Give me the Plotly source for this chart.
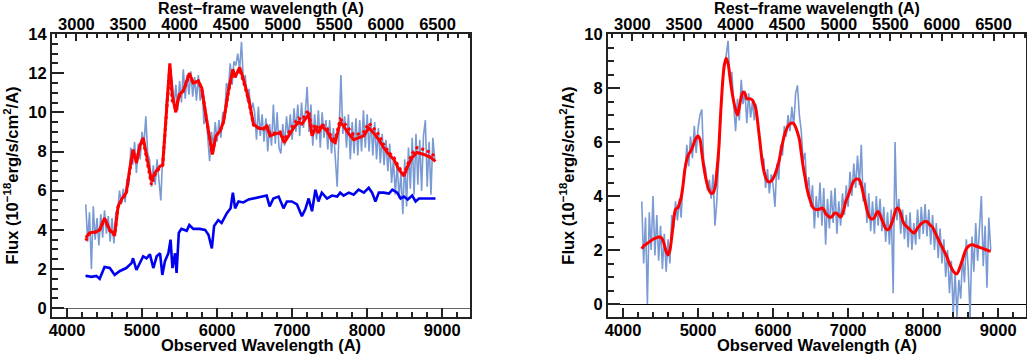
import numpy as np
import plotly.graph_objects as go

REDSHIFT = 0.375

# common sampling grid of the observed spectra (Angstrom)
wave = np.arange(4250, 8901, 25)

# left panel: observed spectrum (light blue)
left_obs = [
    5.3, 3.4, 4.9, 2.0, 5.2, 3.5, 4.6, 3.2, 4.8, 3.6,
    5.0, 3.8, 4.7, 3.4, 4.6, 3.3, 4.9, 5.0, 6.0, 5.3,
    6.1, 5.4, 6.6, 6.3, 8.2, 7.3, 8.5, 6.9, 8.4, 7.6,
    9.0, 8.3, 9.8, 7.9, 7.6, 6.2, 7.3, 6.3, 7.6, 6.6,
    5.5, 7.8, 8.4, 10.6, 11.5, 12.3, 11.6, 10.2, 11.4, 10.1,
    11.6, 10.5, 12.2, 10.7, 11.9, 10.9, 12.1, 10.8, 11.8, 10.6,
    11.9, 10.6, 11.2, 9.4, 10.0, 8.6, 7.5, 9.0, 8.3, 9.5,
    8.5, 9.6, 8.7, 10.0, 9.8, 11.5, 11.2, 12.5, 11.4, 12.6,
    12.4, 13.0, 12.2, 13.6, 11.6, 11.9, 10.6, 11.2, 10.0, 10.5,
    10.0, 8.6, 10.3, 8.8, 9.9, 8.5, 9.7, 8.0, 9.4, 8.3,
    10.4, 8.4, 10.0, 8.2, 7.9, 9.4, 8.3, 9.8, 8.7, 9.9,
    8.6, 10.2, 9.0, 10.4, 8.8, 10.5, 9.2, 10.0, 11.3, 9.0,
    10.4, 8.3, 9.9, 8.6, 10.1, 8.2, 10.0, 8.7, 9.6, 8.1,
    9.6, 7.9, 9.2, 7.7, 6.2, 9.0, 11.9, 8.9, 9.8, 8.2,
    9.9, 7.6, 9.5, 7.9, 9.7, 7.8, 9.6, 8.0, 10.1, 8.2,
    9.9, 8.0, 9.7, 7.8, 9.5, 7.6, 9.2, 7.4, 8.9, 7.3,
    8.6, 7.0, 8.4, 6.4, 7.6, 5.8, 7.4, 5.6, 6.9, 4.8,
    7.6, 5.2, 8.2, 6.1, 8.7, 5.8, 8.9, 6.3, 8.6, 6.0,
    8.8, 9.6, 6.2, 8.5, 5.8, 8.7, 7.6,
]

# left panel: model fits (red solid / red dotted)
fit_wave = [
    4250, 4300, 4390, 4435, 4500, 4570, 4635, 4680, 4725, 4790,
    4835, 4880, 4925, 4970, 5015, 5060, 5125, 5170, 5240, 5275,
    5305, 5340, 5370, 5405, 5450, 5495, 5550, 5630, 5683, 5750,
    5795, 5860, 5937, 5985, 6040, 6085, 6150, 6210, 6240, 6300,
    6350, 6420, 6485, 6550, 6620, 6660, 6705, 6775, 6840, 6895,
    6950, 7020, 7085, 7130, 7175, 7220, 7265, 7310, 7350, 7395,
    7465, 7530, 7575, 7640, 7685, 7755, 7820, 7885, 7955, 8020,
    8085, 8155, 8220, 8290, 8355, 8420, 8490, 8540, 8600, 8665,
    8755, 8845, 8910,
]
fit_solid = [
    3.6, 3.85, 3.9, 4.0, 4.6, 4.0, 3.75, 5.2, 5.55, 5.9,
    7.1, 8.1, 7.4, 8.3, 8.7, 7.8, 6.5, 6.9, 7.25, 7.3,
    9.0, 11.0, 12.5, 10.85, 10.0, 10.9, 11.1, 12.0, 11.5, 11.6,
    11.25, 9.65, 7.85, 8.8, 9.05, 9.5, 11.1, 12.2, 11.8, 12.3,
    11.7, 10.7, 9.4, 9.2, 9.15, 9.3, 8.8, 8.9, 8.95, 8.45,
    8.8, 9.2, 9.5, 9.4, 9.65, 9.9, 8.8, 9.2, 8.95, 9.3,
    9.05, 8.55, 8.45, 9.5, 9.3, 8.9, 8.6, 8.7, 8.8, 9.2,
    8.95, 8.6, 8.2, 7.85, 7.6, 7.1, 6.75, 7.25, 7.7, 7.95,
    7.85, 7.7, 7.5,
]
fit_dotted = [
    3.45, 3.8, 3.9, 4.0, 4.55, 3.95, 3.7, 5.15, 5.5, 5.85,
    7.0, 7.9, 7.5, 8.2, 8.6, 7.7, 6.3, 6.8, 7.2, 7.3,
    9.0, 10.9, 12.3, 10.5, 10.3, 10.8, 11.1, 11.9, 11.5, 11.6,
    11.2, 9.6, 7.9, 8.8, 9.05, 9.5, 11.0, 12.1, 11.8, 12.2,
    11.6, 10.6, 9.35, 9.2, 9.15, 9.35, 8.9, 8.95, 9.0, 8.6,
    8.95, 9.4, 9.7, 9.6, 9.9, 10.1, 9.0, 9.4, 9.1, 9.4,
    9.2, 8.7, 8.6, 9.65, 9.5, 9.15, 8.85, 8.9, 9.0, 9.45,
    9.2, 8.85, 8.35, 7.95, 7.7, 7.2, 6.85, 7.35, 7.9, 8.2,
    8.1, 7.95, 7.7,
]

# left panel: host/template component (dark blue)
host_wave = [
    4250, 4265, 4325, 4390, 4435, 4500, 4570, 4635, 4705, 4790,
    4860, 4880, 4925, 4970, 5015, 5060, 5105, 5150, 5195, 5240,
    5270, 5305, 5350, 5380, 5405, 5440, 5460, 5490, 5525, 5595,
    5630, 5683, 5770, 5840, 5885, 5930, 5960, 6015, 6060, 6130,
    6180, 6210, 6240, 6285, 6350, 6420, 6485, 6575, 6660, 6700,
    6750, 6820, 6885, 6930, 6995, 7065, 7130, 7175, 7220, 7265,
    7310, 7350, 7395, 7465, 7530, 7600, 7640, 7685, 7755, 7820,
    7885, 7955, 8020, 8065, 8110, 8155, 8220, 8290, 8335, 8400,
    8445, 8490, 8540, 8600, 8645, 8690, 8755, 8845, 8910,
]
host_flux = [
    1.6, 1.65, 1.6, 1.65, 1.5, 2.1, 2.05, 1.7, 1.9, 2.05,
    2.3, 2.55, 1.95, 2.3, 2.65, 2.55, 2.75, 2.05, 2.65, 2.8,
    1.7, 2.4, 2.8, 3.5, 2.05, 2.8, 1.8, 3.85, 4.05, 3.95,
    4.25, 4.05, 4.05, 4.0, 3.75, 3.05, 4.2, 4.5, 4.35, 4.85,
    5.1, 5.9, 5.1, 5.45, 5.4, 5.55, 5.6, 5.7, 5.75, 5.2,
    5.6, 5.7, 5.1, 5.45, 5.45, 5.3, 4.7, 5.05, 5.6, 4.95,
    6.05, 5.45, 5.9, 5.6, 5.75, 5.7, 5.9, 5.75, 5.9, 5.8,
    6.05, 5.9, 6.15, 5.9, 5.45, 5.9, 5.9, 5.85, 6.05, 5.9,
    5.6, 5.7, 5.55, 5.75, 5.45, 5.6, 5.6, 5.6, 5.6,
]

# right panel: host-subtracted spectrum (light blue) and smoothed fit (red)
right_obs = [
    3.8, 1.5, 3.2, 0.0, 3.4, 2.0, 4.0, 1.8, 3.3, 1.6,
    2.9, 1.3, 2.6, 1.2, 2.4, 1.5, 3.3, 2.8, 3.8, 3.1,
    3.9, 3.2, 4.6, 4.8, 5.9, 5.1, 6.2, 5.4, 6.6, 5.6,
    6.5, 7.0, 7.2, 5.3, 5.0, 4.2, 4.6, 3.9, 4.8, 2.9,
    3.8, 5.2, 6.8, 8.3, 8.7, 9.2, 9.75, 8.2, 8.6, 7.4,
    6.4, 7.6, 6.8, 8.3, 7.4, 7.9, 6.7, 7.8, 6.9, 7.5,
    6.8, 7.4, 6.5, 6.0, 5.2, 5.4, 4.3, 5.0, 4.1, 4.8,
    4.4, 3.6, 5.2, 4.6, 5.9, 5.5, 6.6, 6.2, 7.0, 6.4,
    7.3, 6.6, 7.8, 8.1, 7.0, 6.4, 5.3, 5.6, 4.2, 4.7,
    3.6, 4.4, 2.8, 4.0, 3.2, 4.5, 2.9, 4.3, 2.2, 3.9,
    2.8, 4.2, 3.0, 4.3, 2.6, 3.8, 2.9, 4.1, 3.3, 4.4,
    3.6, 4.9, 4.0, 5.2, 4.3, 5.5, 4.4, 5.9, 3.8, 4.5,
    3.0, 4.1, 2.7, 3.8, 2.6, 4.0, 2.9, 3.9, 2.7, 3.6,
    2.3, 3.4, 2.2, 3.5, 0.4, 6.0, 3.1, 3.9, 2.6, 3.5,
    2.4, 3.3, 2.1, 3.4, 2.0, 3.0, 2.2, 3.5, 2.4, 3.6,
    2.6, 3.7, 2.5, 3.5, 2.2, 3.3, 2.0, 3.0, 1.7, 2.8,
    1.5, 2.4, 1.0, 2.0, 0.4, 1.6, -0.4, 1.2, -0.5, 0.9,
    0.2, 1.8, 0.8, 2.4, 1.3, -0.5, 2.5, 1.2, 3.0, 1.6,
    2.6, 4.0, 1.4, 2.9, 0.6, 3.2, 2.0,
]
right_fit = [
    2.05, 2.15, 2.2, 2.25, 2.3, 2.35, 2.4, 2.43, 2.46, 2.48,
    2.48, 2.4, 2.2, 1.95, 1.82, 2.0, 2.5, 3.1, 3.5, 3.55,
    3.7, 3.95, 4.4, 5.0, 5.35, 5.55, 5.65, 5.8, 6.0, 6.15,
    6.22, 6.1, 5.6, 5.1, 4.7, 4.4, 4.2, 4.1, 4.12, 4.3,
    4.9, 5.7, 7.0, 8.1, 8.85, 9.1, 8.9, 8.4, 7.9, 7.5,
    7.2, 7.0, 7.3, 7.65, 7.85, 7.8, 7.6, 7.6, 7.6, 7.55,
    7.4, 7.15, 6.6, 6.0, 5.4, 4.95, 4.7, 4.55, 4.52, 4.55,
    4.65, 4.8, 5.0, 5.25, 5.6, 5.95, 6.25, 6.45, 6.6, 6.67,
    6.7, 6.68, 6.55, 6.35, 6.1, 5.6, 5.1, 4.7, 4.3, 4.0,
    3.8, 3.6, 3.52, 3.5, 3.5, 3.52, 3.56, 3.5, 3.35, 3.28,
    3.22, 3.22, 3.3, 3.37, 3.35, 3.28, 3.22, 3.35, 3.6, 3.85,
    4.0, 4.2, 4.4, 4.55, 4.62, 4.63, 4.6, 4.4, 4.1, 3.8,
    3.5, 3.27, 3.17, 3.15, 3.2, 3.35, 3.43, 3.3, 3.12, 2.95,
    2.8, 2.75, 2.8, 2.95, 3.15, 3.4, 3.55, 3.52, 3.35, 3.1,
    2.95, 2.88, 2.82, 2.75, 2.68, 2.63, 2.7, 2.82, 2.9, 2.98,
    3.03, 3.06, 3.05, 2.98, 2.9, 2.85, 2.7, 2.55, 2.4, 2.25,
    2.12, 1.98, 1.85, 1.68, 1.5, 1.35, 1.22, 1.14, 1.12, 1.25,
    1.45, 1.65, 1.88, 2.05, 2.13, 2.18, 2.2, 2.18, 2.15, 2.13,
    2.1, 2.08, 2.05, 2.02, 2.0, 1.97, 1.95,
]

OBS_RANGE = [3800, 9370]
LEFT_YRANGE = [-0.45, 14.0]
RIGHT_YRANGE = [-0.48, 10.0]

FONT = dict(family="Liberation Sans, Arial, sans-serif", size=16.5, color="black", weight="bold")
TOP_TITLE_FONT = dict(FONT, size=16)
AXCOL = "#222222"
LIGHT = "rgb(122,154,212)"

fig = go.Figure()

fig.add_trace(go.Scatter(x=wave, y=left_obs, mode="lines", line=dict(color=LIGHT, width=1.6),
                         xaxis="x", yaxis="y", showlegend=False))
fig.add_trace(go.Scatter(x=host_wave, y=host_flux, mode="lines", line=dict(color="#0000f0", width=2.6),
                         xaxis="x", yaxis="y", showlegend=False))
fig.add_trace(go.Scatter(x=fit_wave, y=fit_dotted, mode="lines", line=dict(color="#ff0000", width=3, dash="dot"),
                         xaxis="x", yaxis="y", showlegend=False))
fig.add_trace(go.Scatter(x=fit_wave, y=fit_solid, mode="lines", line=dict(color="#ff0000", width=3),
                         xaxis="x", yaxis="y", showlegend=False))

fig.add_trace(go.Scatter(x=wave, y=right_obs, mode="lines", line=dict(color=LIGHT, width=1.6),
                         xaxis="x2", yaxis="y2", showlegend=False))
fig.add_trace(go.Scatter(x=wave, y=right_fit, mode="lines", line=dict(color="#ff0000", width=3, shape="spline"),
                         xaxis="x2", yaxis="y2", showlegend=False))

# dummy traces so the rest-frame axes are drawn
fig.add_trace(go.Scatter(x=[None], y=[None], xaxis="x3", yaxis="y", showlegend=False))
fig.add_trace(go.Scatter(x=[None], y=[None], xaxis="x4", yaxis="y2", showlegend=False))


def bottom_axis(domain, anchor):
    return dict(
        domain=domain, anchor=anchor, range=OBS_RANGE, dtick=1000, tick0=0, automargin=False,
        ticks="inside", ticklen=9, tickwidth=2, tickcolor=AXCOL, ticklabelstandoff=-3,
        minor=dict(dtick=200, ticks="inside", ticklen=5, tickwidth=1.5, tickcolor=AXCOL),
        showline=True, linewidth=2, linecolor=AXCOL, mirror=True,
        showgrid=False, zeroline=False, tickfont=FONT,
        title=dict(text="Observed Wavelength (A)", font=FONT, standoff=0),
    )


def top_axis(over, anchor):
    return dict(
        overlaying=over, anchor=anchor, side="top", automargin=False,
        range=[OBS_RANGE[0] / (1 + REDSHIFT), OBS_RANGE[1] / (1 + REDSHIFT)],
        dtick=500, tick0=0, ticks="inside", ticklen=7, tickwidth=2, tickcolor=AXCOL,
        minor=dict(dtick=100, ticks="inside", ticklen=4, tickwidth=1.5, tickcolor=AXCOL),
        showline=False, showgrid=False, zeroline=False, tickfont=FONT,
        title=dict(text="Rest\u2212frame wavelength (A)", font=TOP_TITLE_FONT, standoff=5),
    )


def y_axis(rng, anchor, zcol):
    return dict(
        domain=[0, 1], anchor=anchor, range=rng, dtick=2, tick0=0, automargin=False,
        ticks="inside", ticklen=12, tickwidth=2, tickcolor=AXCOL,
        minor=dict(dtick=0.5, ticks="inside", ticklen=6, tickwidth=1.5, tickcolor=AXCOL),
        showline=True, linewidth=2, linecolor=AXCOL, mirror=True,
        showgrid=False, zeroline=True, zerolinecolor=zcol, zerolinewidth=1.2,
        tickfont=FONT,
        title=dict(text="Flux (10<sup>\u221218</sup>erg/s/cm<sup>2</sup>/A)", font=FONT, standoff=6),
    )


PLOT_W = 1027 - 52 - 1

fig.update_layout(
    width=1027, height=354,
    margin=dict(l=52, r=1, t=34, b=37, autoexpand=False),
    paper_bgcolor="white", plot_bgcolor="white",
    xaxis=bottom_axis([0, 418 / PLOT_W], "y"),
    xaxis2=bottom_axis([556 / PLOT_W, 1], "y2"),
    xaxis3=top_axis("x", "y"),
    xaxis4=top_axis("x2", "y2"),
    yaxis=y_axis(LEFT_YRANGE, "x", "#666666"),
    yaxis2=y_axis(RIGHT_YRANGE, "x2", "#000000"),
)

# drop the default 8px page margin so the figure sits at the window origin
fig.write_html("out.html", config={"displayModeBar": False},
               post_script="document.body.style.margin='0px';")
